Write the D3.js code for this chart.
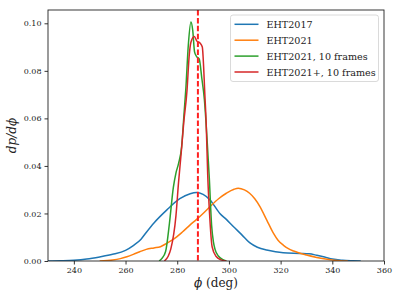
<!DOCTYPE html>
<html><head><meta charset="utf-8">
<script src="https://cdn.jsdelivr.net/npm/d3@7"></script>
<style>body{margin:0;background:#fff}svg{display:block}</style>
</head><body>
<svg id="c" width="398" height="301"></svg>
<script>
const seriesNames = ["EHT2017", "EHT2021", "EHT2021, 10 frames", "EHT2021+, 10 frames"];
const seriesColors = ["#1f77b4", "#ff7f0e", "#2ca02c", "#d62728"];
const xTicks = [240, 260, 280, 300, 320, 340, 360];
const yTicks = [0.00, 0.02, 0.04, 0.06, 0.08, 0.10];
const refPhi = 288;

const eht2017 = [[230,0],[235,0.0001],[240,0.0003],[245,0.0008],[250,0.0017],[255,0.0028],[260,0.0045],[263,0.0065],[266,0.0092],[268,0.012],[271,0.016],[276,0.0215],[281,0.0262],[285,0.0283],[287.5,0.0288],[290,0.028],[292.7,0.0257],[296.5,0.020],[299,0.0175],[301.7,0.0145],[305,0.011],[308,0.0077],[311,0.0058],[314.6,0.0046],[318,0.0039],[321,0.0035],[327.5,0.0032],[331,0.003],[334,0.0024],[337,0.0017],[340,0.0008],[344,0.0003],[348,0.0001],[351,0]];
const eht2021 = [[250,0],[255,0.0004],[258,0.001],[260.5,0.0018],[263,0.0028],[265.5,0.0039],[268,0.0049],[271,0.0055],[273.5,0.006],[276,0.0075],[279,0.0095],[282,0.0122],[285,0.0152],[287.5,0.0175],[290,0.020],[292.7,0.0229],[296,0.0262],[299,0.0285],[302,0.0302],[303.6,0.0306],[306,0.0299],[308,0.0285],[310,0.0262],[312,0.0229],[314.6,0.0173],[317.2,0.0117],[319,0.0087],[321,0.0067],[323,0.0052],[325,0.0042],[330,0.0025],[334,0.0015],[338,0.0007],[343,0.0001],[346,0]];
const eht2021f = [[273,0],[274,0.001],[275.5,0.004],[277,0.016],[278.5,0.031],[279.5,0.037],[280.5,0.041],[281.7,0.048],[282.7,0.063],[283.3,0.072],[284.3,0.091],[285.3,0.1005],[286,0.097],[286.7,0.088],[287.5,0.086],[288.5,0.085],[289.5,0.077],[290.5,0.068],[291.5,0.052],[292.4,0.035],[293.3,0.015],[294,0.008],[294.6,0.005],[296,0.002],[297.5,0.0007],[299,0]];
const eht2021pf = [[275,0],[276.5,0.002],[277.5,0.005],[279.5,0.019],[280.5,0.033],[281.5,0.045],[282.5,0.058],[283.8,0.072],[284.6,0.086],[285.3,0.092],[286.6,0.0944],[287.6,0.0925],[288.8,0.0917],[289.7,0.090],[290.2,0.082],[290.6,0.072],[291.2,0.058],[291.8,0.036],[292.5,0.020],[293.5,0.006],[295,0.002],[297,0.0005],[299,0]];
const seriesData = [eht2017, eht2021, eht2021f, eht2021pf];

const svg = d3.select("#c");
const m = {l:48, t:10, r:384, b:261};
const x = d3.scaleLinear().domain([230, 360]).range([m.l, m.r]);
const y = d3.scaleLinear().domain([0, 0.1056]).range([m.b, m.t]);
const font = "'DejaVu Serif', serif";

const line = d3.line().x(d=>x(d[0])).y(d=>y(d[1])).curve(d3.curveMonotoneX);
const plot = svg.append("g");
plot.append("clipPath").attr("id","clip").append("rect").attr("x",m.l).attr("y",m.t).attr("width",m.r-m.l).attr("height",m.b-m.t);
const g = plot.append("g").attr("clip-path","url(#clip)");
seriesData.forEach((d,i)=>{
  g.append("path").attr("d", line(d)).attr("fill","none").attr("stroke", seriesColors[i]).attr("stroke-width",1.5).attr("stroke-linejoin","round");
});
g.append("line").attr("x1",x(refPhi)).attr("x2",x(refPhi)).attr("y1",m.t).attr("y2",m.b)
  .attr("stroke","#ff2020").attr("stroke-width",2).attr("stroke-dasharray","5.5,2.4");

const xa = svg.append("g").attr("transform",`translate(0,${m.b})`)
  .call(d3.axisBottom(x).tickValues(xTicks).tickSize(3.5).tickPadding(3).tickFormat(d3.format("d")));
const ya = svg.append("g").attr("transform",`translate(${m.l},0)`)
  .call(d3.axisLeft(y).tickValues(yTicks).tickSize(3.5).tickPadding(3).tickFormat(d3.format(".2f")));
[xa, ya].forEach(a=>{
  a.select(".domain").remove();
  a.selectAll("line").attr("stroke","#000").attr("stroke-width",0.8);
  a.selectAll("text").attr("font-family",font).attr("font-size",8).attr("fill","#222");
});
svg.append("rect").attr("x",m.l).attr("y",m.t).attr("width",m.r-m.l).attr("height",m.b-m.t)
  .attr("fill","none").attr("stroke","#222").attr("stroke-width",0.9);

svg.append("text").attr("x",(m.l+m.r)/2).attr("y",287).attr("text-anchor","middle")
  .attr("font-family",font).attr("font-size",12).attr("fill","#222")
  .html('<tspan font-style="italic">ϕ</tspan> (deg)');
svg.append("text").attr("transform",`translate(16,${(m.t+m.b)/2}) rotate(-90)`).attr("text-anchor","middle")
  .attr("font-family",font).attr("font-size",12).attr("font-style","italic").attr("fill","#222")
  .text("dp/dϕ");

const lg = svg.append("g");
lg.append("rect").attr("x",230.5).attr("y",15).attr("width",148).attr("height",66.5).attr("rx",2.5)
  .attr("fill","#fff").attr("fill-opacity",0.8).attr("stroke","#d0d0d0").attr("stroke-width",0.8);
seriesNames.forEach((n,i)=>{
  const yy = 24.3 + i*15.9;
  lg.append("line").attr("x1",234.5).attr("x2",258.5).attr("y1",yy).attr("y2",yy)
    .attr("stroke",seriesColors[i]).attr("stroke-width",1.5);
  lg.append("text").attr("x",266.5).attr("y",yy+3.6).attr("font-family",font).attr("font-size",9.6)
    .attr("fill","#222").text(n);
});
</script>
</body></html>
